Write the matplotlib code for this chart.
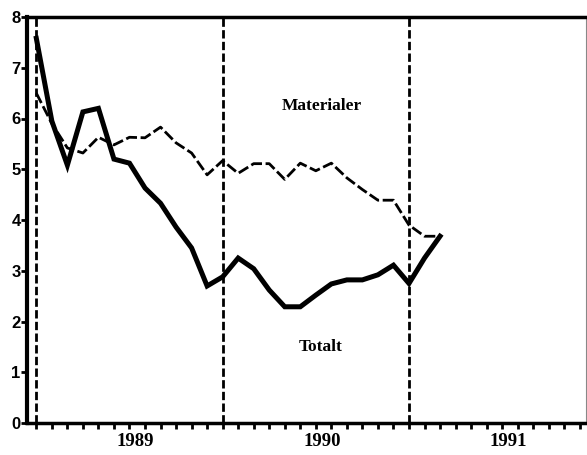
import matplotlib
matplotlib.use("Agg")
import matplotlib.pyplot as plt
import numpy as np

# Monthly observations, month 0 = January 1989
months = list(range(27))
totalt = [7.58, 5.95, 5.08, 6.13, 6.20, 5.20, 5.12, 4.63, 4.33, 3.86, 3.45, 2.70,
          2.88, 3.25, 3.04, 2.62, 2.29, 2.29, 2.52, 2.74, 2.82, 2.82, 2.92, 3.11,
          2.75, 3.25, 3.68]
materialer = [6.50, 5.90, 5.42, 5.32, 5.63, 5.48, 5.63, 5.62, 5.83, 5.52, 5.32, 4.89,
              5.17, 4.92, 5.11, 5.11, 4.80, 5.12, 4.97, 5.12, 4.83, 4.60, 4.39, 4.39,
              3.90, 3.68, 3.68]
year_marks = [0, 12, 24]
year_labels = ["1989", "1990", "1991"]
year_label_pos = [6.4, 18.4, 30.4]
y_ticks = [0, 1, 2, 3, 4, 5, 6, 7, 8]

W, H = 587, 455
fig = plt.figure(figsize=(W / 100, H / 100), dpi=100)
ax = fig.add_axes([27 / W, (455 - 423) / H, (586 - 27) / W, (423 - 17) / H])

ax.set_xlim(-0.6, 35.4)
ax.set_ylim(0, 8)

for m in year_marks:
    ax.axvline(m, color="black", lw=2.0, ls=(0, (3, 1.2)), zorder=1)

ax.plot(months, materialer, color="black", lw=2.0, ls=(0, (4, 1.3)), zorder=2)
ax.plot(months, totalt, color="black", lw=3.6, solid_joinstyle="miter", zorder=3)

ax.text(18.4, 6.25, "Materialer", family="Liberation Serif", fontsize=12.5,
        fontweight="bold", ha="center", va="center")
ax.text(18.3, 1.5, "Totalt", family="Liberation Serif", fontsize=12.5,
        fontweight="bold", ha="center", va="center")

ax.set_yticks(y_ticks)
ax.set_yticklabels([str(v) for v in y_ticks], family="Liberation Sans",
                   fontweight="bold", fontsize=12)
ax.tick_params(axis="y", direction="out", length=4, width=2, pad=0.5)

ax.set_xticks(np.arange(0, 36, 1))
ax.set_xticklabels([])
ax.tick_params(axis="x", direction="out", length=4, width=2)
for pos, lab in zip(year_label_pos, year_labels):
    ax.text(pos, -0.2, lab, family="Liberation Serif", fontsize=13.5,
            fontweight="bold", ha="center", va="top", transform=ax.transData)

ax.spines["left"].set_linewidth(3)
for side in ["bottom", "top"]:
    ax.spines[side].set_linewidth(2.5)
ax.spines["right"].set_linewidth(0.8)
ax.spines["right"].set_color("#888888")

fig.savefig("out.png", dpi=100)
